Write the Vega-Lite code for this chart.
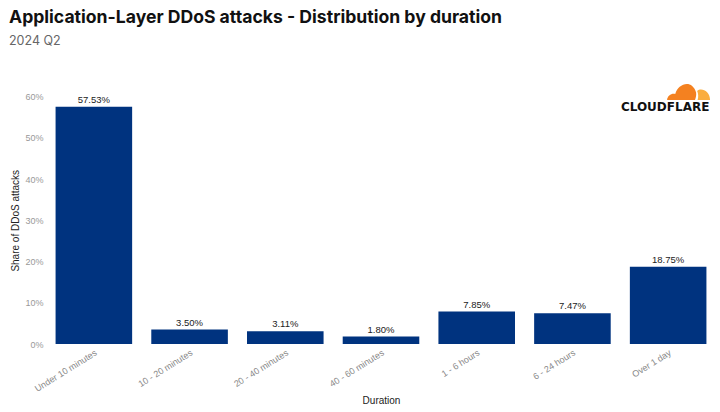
{
"$schema":"https://vega.github.io/schema/vega-lite/v6.json",
"width":670,"height":247.5,
"autosize":{"type":"none"},
"padding":{"left":46,"top":96.5,"right":4,"bottom":68},
"background":"white",
"config":{"view":{"stroke":null}},
"title":{"text":"Application-Layer DDoS attacks - Distribution by duration","subtitle":"2024 Q2","anchor":"start","frame":"group","dx":-37,"offset":36.5,"font":"Inter","fontSize":17.6,"fontWeight":700,"color":"#111111","subtitleFont":"Inter","subtitleFontSize":12.5,"subtitleColor":"#666666","subtitlePadding":8},
"data":{"values":[
{"duration":"Under 10 minutes","share":57.53,"label":"57.53%"},
{"duration":"10 - 20 minutes","share":3.50,"label":"3.50%"},
{"duration":"20 - 40 minutes","share":3.11,"label":"3.11%"},
{"duration":"40 - 60 minutes","share":1.80,"label":"1.80%"},
{"duration":"1 - 6 hours","share":7.85,"label":"7.85%"},
{"duration":"6 - 24 hours","share":7.47,"label":"7.47%"},
{"duration":"Over 1 day","share":18.75,"label":"18.75%"}]},
"encoding":{
"x":{"field":"duration","type":"nominal","sort":null,"scale":{"paddingInner":0.2,"paddingOuter":0.1},
"axis":{"title":"Duration","titleFont":"Liberation Sans","titleFontSize":10,"titleFontWeight":"normal","titleColor":"#222222","titlePadding":2,"labelFont":"Liberation Sans","labelFontSize":9,"labelColor":"#888888","labelAngle":-32,"labelAlign":"right","labelBaseline":"top","labelPadding":4,"ticks":false,"domain":false,"grid":false}},
"y":{"field":"share","type":"quantitative","scale":{"domain":[0,60],"nice":false},
"axis":{"title":"Share of DDoS attacks","titleFont":"Liberation Sans","titleFontSize":10,"titleFontWeight":"normal","titleColor":"#222222","titlePadding":4,"labelFont":"Liberation Sans","labelFontSize":9,"labelColor":"#999999","labelPadding":3,"ticks":false,"domain":false,"grid":false,"values":[0,10,20,30,40,50,60],"labelExpr":"datum.value + '%'"}}
},
"layer":[
{"mark":{"type":"bar","color":"#00337f"}},
{"mark":{"type":"text","baseline":"bottom","dy":-2,"font":"Liberation Sans","fontSize":9.5,"color":"#222222"},
 "encoding":{"text":{"field":"label"}}},
{"data":{"values":[{"duration":"Over 1 day","share":57.5,"logo":"CLOUDFLARE"}]},
 "mark":{"type":"text","font":"DejaVu Sans","fontWeight":700,"fontSize":12,"color":"#111111","align":"center","baseline":"middle","dx":-3,"limit":0},
 "encoding":{"text":{"field":"logo"}}},
{"data":{"values":[{"duration":"Over 1 day","share":59.15}]},
 "mark":{"type":"point","filled":true,"opacity":1,"size":1849,"color":"#f48120","shape":"M-0.05 0C-0.03 -0.2 0.15 -0.32 0.33 -0.28C0.45 -0.75 1.1 -1 1.3 -0.35C1.32 -0.2 1.28 -0.1 1.25 0Z"}},
{"data":{"values":[{"duration":"Over 1 day","share":59.15}]},
 "mark":{"type":"point","filled":true,"opacity":1,"size":1849,"color":"#faad3f","shape":"M1.37 0C1.42 -0.15 1.4 -0.3 1.35 -0.42C1.55 -0.6 1.95 -0.4 1.95 0Z"}}
]
}
